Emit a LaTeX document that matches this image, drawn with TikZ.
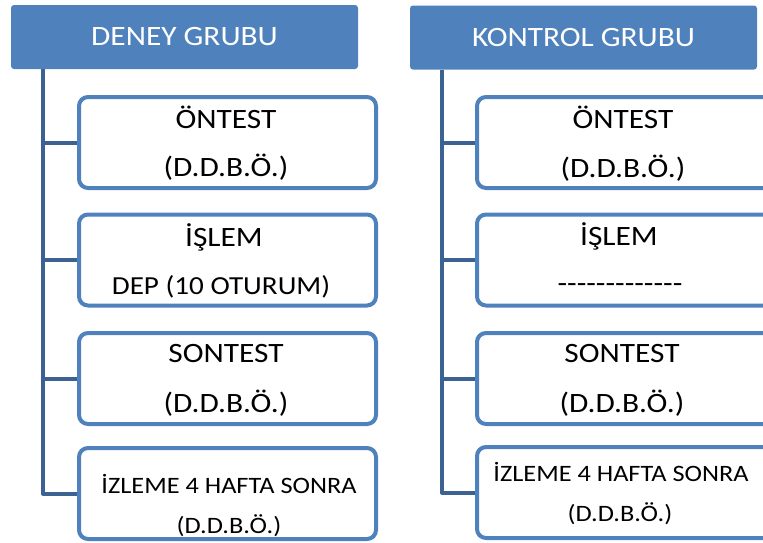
\documentclass[tikz,border=0pt]{standalone}
\usepackage{fontspec}
\newfontfamily\carl{Carlito}
\definecolor{hdr}{RGB}{79,129,189}
\definecolor{connc}{RGB}{60,98,148}
\newcommand\widetxt[1]{\scalebox{1.12}[1]{#1}}
\begin{document}
\begin{tikzpicture}[x=1pt,y=-1pt,
  header/.style={fill=hdr, rounded corners=3pt, minimum width=347pt, minimum height=64pt, inner sep=0pt,
    text=white, font=\carl\fontsize{28}{30}\selectfont},
  stagebox/.style={draw=hdr, line width=4pt, rounded corners=9pt, fill=white, inner sep=0pt,
    minimum width=297pt, minimum height=91pt},
  connline/.style={draw=connc, line width=4pt, line join=round},
  txt/.style={anchor=base, inner sep=0pt, font=\carl\fontsize{28}{30}\selectfont},
  txtmid/.style={anchor=base, inner sep=0pt, font=\carl\fontsize{26}{28}\selectfont},
  txtsm/.style={anchor=base, inner sep=0pt, font=\carl\fontsize{23.5}{25}\selectfont}]
\useasboundingbox (0,0) rectangle (763,542);

% headers
\node[header] (lh) at (184.5,37) {\widetxt{DENEY GRUBU}};
\node[header] (rh) at (583.5,37.5) {\widetxt{KONTROL GRUBU}};

% spine coordinates
\coordinate (lv) at (43,69);
\coordinate (rv) at (442,70);

% left boxes
\node[stagebox] (lb1) at (227.5,142.5) {};
\node[stagebox] (lb2) at (227.5,260) {};
\node[stagebox] (lb3) at (227.5,378.5) {};
\node[stagebox] (lb4) at (227.5,493.5) {};
% right boxes
\node[stagebox] (rb1) at (625.5,142.5) {};
\node[stagebox] (rb2) at (625.5,260) {};
\node[stagebox] (rb3) at (625.5,378.5) {};
\node[stagebox] (rb4) at (625.5,492.5) {};

% connectors
\draw[connline] (lv) |- (lb4.west);
\draw[connline] (lv |- lb1.west) -- (lb1.west);
\draw[connline] (lv |- lb2.west) -- (lb2.west);
\draw[connline] (lv |- lb3.west) -- (lb3.west);
\draw[connline] (rv) |- (rb4.west);
\draw[connline] (rv |- rb1.west) -- (rb1.west);
\draw[connline] (rv |- rb2.west) -- (rb2.west);
\draw[connline] (rv |- rb3.west) -- (rb3.west);

% left texts
\node[txt] (lt1a) at (226,128) {\widetxt{ÖNTEST}};
\node[txt] (lt1b) at (226,176) {\widetxt{(D.D.B.Ö.)}};
\node[txt] (lt2a) at (224,246) {\widetxt{İŞLEM}};
\node[txtmid] (lt2b) at (221,294) {\widetxt{DEP (10 OTURUM)}};
\node[txt] (lt3a) at (226,362) {\widetxt{SONTEST}};
\node[txt] (lt3b) at (226,412) {\widetxt{(D.D.B.Ö.)}};
\node[txtsm] (lt4a) at (229,493) {\widetxt{İZLEME 4 HAFTA SONRA}};
\node[txtsm] (lt4b) at (229,533) {\widetxt{(D.D.B.Ö.)}};

% right texts
\node[txt] (rt1a) at (623,128) {\widetxt{ÖNTEST}};
\node[txt] (rt1b) at (623,177) {\widetxt{(D.D.B.Ö.)}};
\node[txt] (rt2a) at (619,245) {\widetxt{İŞLEM}};
\node[txt] (rt2b) at (620,292) {\widetxt{-------------}};
\node[txt] (rt3a) at (622,362) {\widetxt{SONTEST}};
\node[txt] (rt3b) at (622,412) {\widetxt{(D.D.B.Ö.)}};
\node[txtsm] (rt4a) at (621,481) {\widetxt{İZLEME 4 HAFTA SONRA}};
\node[txtsm] (rt4b) at (620,521) {\widetxt{(D.D.B.Ö.)}};
\end{tikzpicture}
\end{document}
